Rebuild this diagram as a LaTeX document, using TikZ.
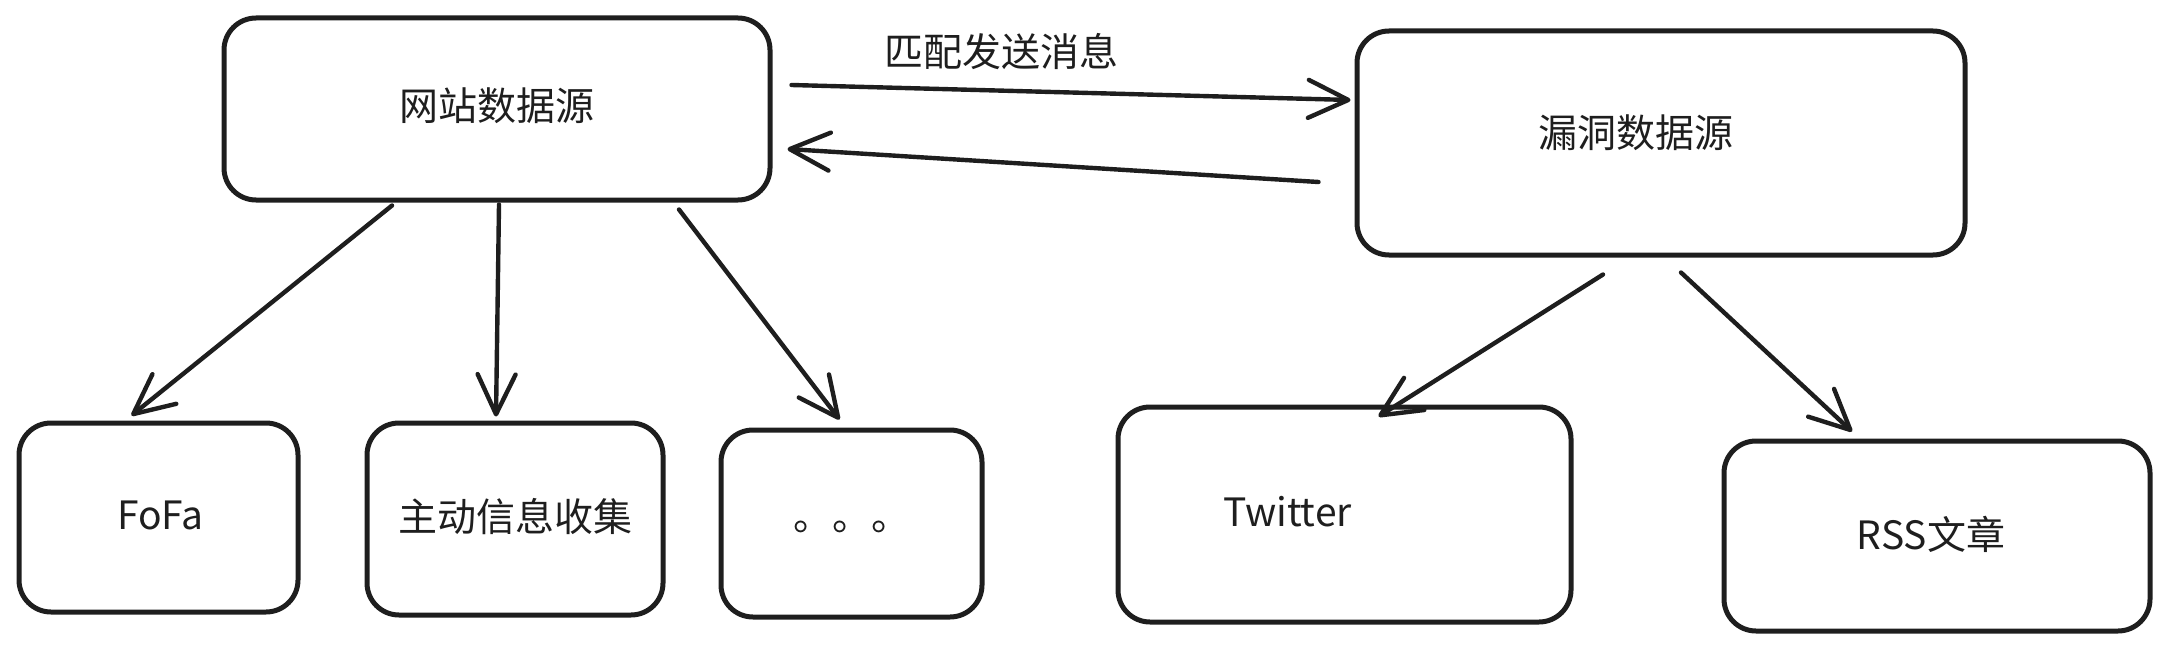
\documentclass[tikz,border=0pt]{standalone}
\usepackage{fontspec}
\setmainfont{Noto Sans CJK SC}
\usetikzlibrary{arrows.meta,calc}
\definecolor{ink}{HTML}{1E1E1E}
\begin{document}
\begin{tikzpicture}[x=1pt,y=-1pt,
  box/.style={draw=ink, line width=5pt, rounded corners=32pt, inner sep=0pt, text=ink, font=\fontsize{39}{44}\selectfont},
  lbl/.style={text=ink, inner sep=0pt, font=\fontsize{39}{44}\selectfont},
  arr/.style={draw=ink, line width=4.4pt, line cap=round, line join=round,
    -{Straight Barb[length=40pt,width=38pt,line cap=round,line join=round]}}]
\useasboundingbox (0,0) rectangle (2170,650);
% boxes
\node[box, minimum width=546pt, minimum height=182pt,
  label={[lbl, yshift=3pt]center:网站数据源}] (web) at (497,109) {};
\node[box, minimum width=608pt, minimum height=224pt,
  label={[lbl, xshift=-25pt, yshift=10pt]center:漏洞数据源}] (vuln) at (1661,143) {};
\node[box, minimum width=279pt, minimum height=189pt,
  label={[lbl, xshift=2pt, yshift=2pt]center:FoFa}] (fofa) at (158.5,517.5) {};
\node[box, minimum width=296pt, minimum height=192pt,
  label={[lbl, yshift=2pt]center:主动信息收集}] (act) at (515,519) {};
\node[box, minimum width=261pt, minimum height=187pt,
  label={[lbl, xshift=0pt, yshift=-3pt]center:。。。}] (dots) at (851.5,523.5) {};
\node[box, minimum width=453pt, minimum height=215pt,
  label={[lbl, xshift=-57pt, yshift=2.5pt]center:Twitter}] (twt) at (1344.5,514.5) {};
\node[box, minimum width=426pt, minimum height=190pt,
  label={[lbl, xshift=-6pt, yshift=2pt]center:RSS文章}] (rss) at (1937,536) {};
% edge label
\node[lbl] (msg) at (1001,52) {匹配发送消息};
% connectors
\draw[arr] ([xshift=-105pt,yshift=-3pt]web.south) -- ([xshift=-27pt,yshift=5pt]fofa.north);
\draw[arr] ([xshift=2pt,yshift=-2pt]web.south) -- ([xshift=-19pt,yshift=4pt]act.north);
\draw[arr] ([xshift=182pt,yshift=-7pt]web.south) -- ([xshift=-12pt,yshift=8pt]dots.north);
\draw[arr] ([xshift=-58pt,yshift=-17pt]vuln.south) -- ([xshift=34pt,yshift=-12pt]twt.north);
\draw[arr] ([xshift=20pt,yshift=-15pt]vuln.south) -- ([xshift=-85pt,yshift=7pt]rss.north);
\draw[arr] ([xshift=19pt,yshift=24pt]web.east) -- ([xshift=-4pt,yshift=43pt]vuln.west);
\draw[arr] ([xshift=-36pt,yshift=-39pt]vuln.west) -- ([xshift=15pt,yshift=-40pt]web.east);
\end{tikzpicture}
\end{document}
